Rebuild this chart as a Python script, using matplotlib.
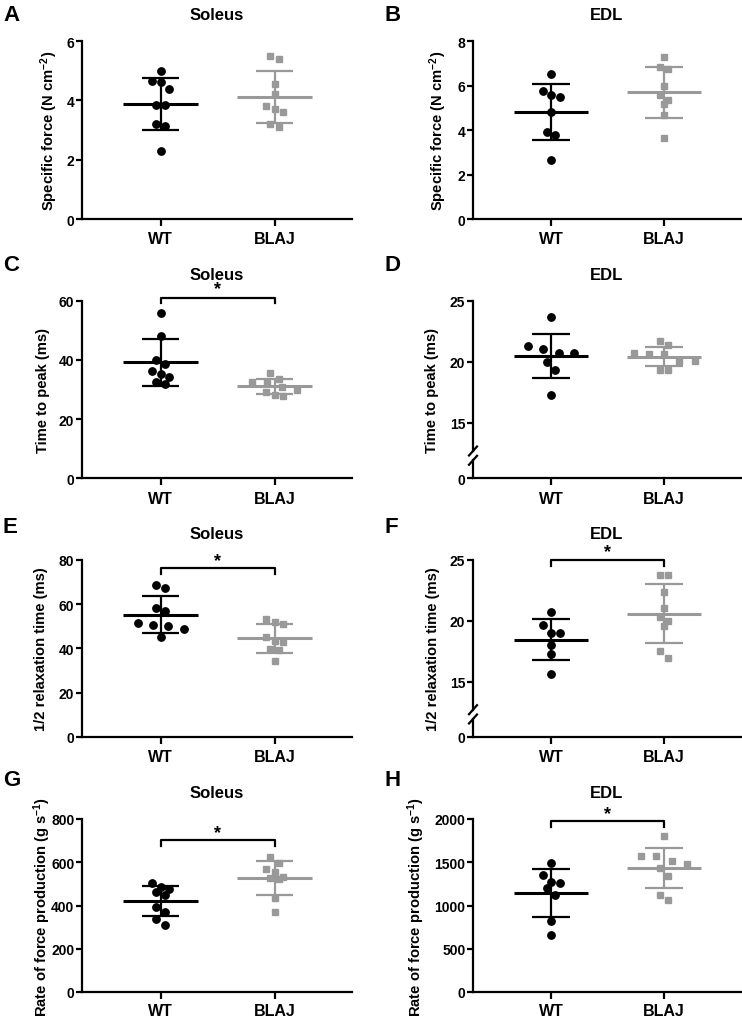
import numpy as np
import matplotlib.pyplot as plt

plt.rcParams['font.family'] = ['Liberation Sans', 'DejaVu Sans']
plt.rcParams['font.weight'] = 'bold'
plt.rcParams['mathtext.fontset'] = 'custom'
plt.rcParams['mathtext.rm'] = 'Liberation Sans:bold'
plt.rcParams['mathtext.bf'] = 'Liberation Sans:bold'
plt.rcParams['mathtext.default'] = 'bf'

# groups on the x axis
groups = ['WT', 'BLAJ']

# A - soleus specific force (N cm-2)
sol_force_wt = [4.98, 4.65, 4.62, 4.39, 3.85, 3.83, 3.20, 3.12, 2.29]
sol_force_blaj = [5.49, 5.38, 4.56, 4.22, 3.80, 3.72, 3.62, 3.20, 3.10]
# B - EDL specific force
edl_force_wt = [6.53, 5.74, 5.59, 5.47, 4.80, 3.90, 3.78, 2.67]
edl_force_blaj = [7.28, 6.83, 6.76, 5.98, 5.56, 5.36, 5.17, 4.68, 3.65]
# C - soleus time to peak (ms)
sol_ttp_wt = [55.7, 48.0, 40.0, 38.6, 36.4, 35.3, 34.1, 32.6, 31.9]
sol_ttp_blaj = [35.6, 33.5, 32.5, 32.2, 30.7, 29.9, 29.0, 28.2, 27.9]
# D - EDL time to peak (ms)
edl_ttp_wt = [23.64, 21.32, 21.05, 20.69, 20.69, 20.0, 19.36, 17.32]
edl_ttp_blaj = [21.67, 21.39, 20.71, 20.63, 20.63, 20.08, 20.08, 19.34, 19.34]
# E - soleus 1/2 relaxation time (ms)
sol_hrt_wt = [68.6, 67.2, 58.2, 57.0, 51.3, 50.7, 49.9, 48.7, 45.0]
sol_hrt_blaj = [53.2, 52.0, 51.0, 45.0, 43.5, 42.7, 39.7, 39.4, 34.4]
# F - EDL 1/2 relaxation time (ms)
edl_hrt_wt = [20.68, 19.64, 18.96, 18.96, 18.0, 17.3, 15.6]
edl_hrt_blaj = [23.72, 23.72, 22.35, 21.04, 20.3, 20.0, 19.6, 17.55, 16.95]
# G - soleus rate of force production (g s-1)
sol_rfp_wt = [505, 484, 475, 462, 447, 392, 370, 337, 311]
sol_rfp_blaj = [624, 595, 568, 555, 532, 526, 522, 436, 370]
# H - EDL rate of force production (g s-1)
edl_rfp_wt = [1490, 1351, 1268, 1257, 1208, 1118, 818, 664]
edl_rfp_blaj = [1801, 1568, 1568, 1520, 1482, 1433, 1343, 1126, 1062]

force_lbl = 'Specific force (N cm$^{-2}$)'
ttp_lbl = 'Time to peak (ms)'
hrt_lbl = '1/2 relaxation time (ms)'
rfp_lbl = 'Rate of force production (g s$^{-1}$)'

W, H = 742, 1020
fig = plt.figure(figsize=(W / 100, H / 100), dpi=100)

BLACK = 'black'
GREY = '#999999'

# panel layout in pixels
col_x = [(82, 270), (473, 268)]
row_y = [(42, 220), (301.7, 479.3), (560.7, 738), (820, 993)]
panels = [
    ('A', 0, 0, 'Soleus', force_lbl, sol_force_wt, sol_force_blaj, [0, 2, 4, 6], False, None, -0.082),
    ('B', 1, 0, 'EDL', force_lbl, edl_force_wt, edl_force_blaj, [0, 2, 4, 6, 8], False, None, -0.088),
    ('C', 0, 1, 'Soleus', ttp_lbl, sol_ttp_wt, sol_ttp_blaj, [0, 20, 40, 60], False, (59.2, 60.9, 64.0), -0.12),
    ('D', 1, 1, 'EDL', ttp_lbl, edl_ttp_wt, edl_ttp_blaj, [15, 20, 25], True, None, -0.126),
    ('E', 0, 2, 'Soleus', hrt_lbl, sol_hrt_wt, sol_hrt_blaj, [0, 20, 40, 60, 80], False, (73.5, 76.1, 79.5), -0.125),
    ('F', 1, 2, 'EDL', hrt_lbl, edl_hrt_wt, edl_hrt_blaj, [15, 20, 25], True, (24.5, 25.0, 25.7), -0.122),
    ('G', 0, 3, 'Soleus', rfp_lbl, sol_rfp_wt, sol_rfp_blaj, [0, 200, 400, 600, 800], False, (676, 702, 737), -0.106),
    ('H', 1, 3, 'EDL', rfp_lbl, edl_rfp_wt, edl_rfp_blaj, [0, 500, 1000, 1500, 2000], False, (1913, 1981, 2064), -0.17),
]


def px_axes(x0, w, top, bottom):
    return fig.add_axes([x0 / W, 1 - bottom / H, w / W, (bottom - top) / H])


def style(ax, xpad=4):
    for s in ['top', 'right']:
        ax.spines[s].set_visible(False)
    for s in ['left', 'bottom']:
        ax.spines[s].set_linewidth(1.6)
    ax.tick_params(axis='y', length=4, width=1.6, pad=1.5, labelsize=10)
    ax.tick_params(axis='x', length=5, width=1.6, pad=xpad, labelsize=11.5)
    ax.set_xlim(-0.69, 1.68)


def spread(ax, x0, values, d=8.5):
    # prism-like scatter: points close in y share a row and are spread sideways
    vals = np.asarray(values, dtype=float)
    pts = ax.transData.transform(np.column_stack([np.full(len(vals), x0), vals]))
    ys = pts[:, 1]
    cx = pts[0, 0]
    order = np.argsort(-vals, kind='stable')
    rows = []
    for i in order:
        if rows and ys[rows[-1][0]] - ys[i] < d:
            rows[-1].append(i)
        else:
            rows.append([i])
    xs = np.zeros(len(vals))
    for r in rows:
        n = len(r)
        step = d if n <= 3 else 1.8 * d
        for k, i in enumerate(r):
            xs[i] = (k - (n - 1) / 2) * step
    back = ax.transData.inverted().transform(np.column_stack([cx + xs, ys]))
    return back[:, 0]


def group(ax, x0, values, color, marker, ms):
    xs = spread(ax, x0, values)
    ax.plot(xs, values, linestyle='none', marker=marker, ms=ms, color=color, mec=color, zorder=2)
    m = np.mean(values)
    s = np.std(values, ddof=1)
    kw = dict(color=color, solid_capstyle='butt', zorder=3, clip_on=False)
    ax.plot([x0 - 0.33, x0 + 0.33], [m, m], lw=2.2, **kw)
    ax.plot([x0 - 0.165, x0 + 0.165], [m + s, m + s], lw=1.6, **kw)
    ax.plot([x0 - 0.165, x0 + 0.165], [m - s, m - s], lw=1.6, **kw)
    ax.plot([x0, x0], [m - s, m + s], lw=1.6, **kw)


for (letter, col, row, title, ylabel, wt, blaj, yticks, broken, star, lab_x) in panels:
    x0, w = col_x[col]
    top, bottom = row_y[row]
    xpad = 3 if row == 3 else 4
    if broken:
        ax = px_axes(x0, w, top, bottom - 27.3)
        low = px_axes(x0, w, bottom - 18, bottom)
        style(ax, xpad)
        style(low, xpad)
        ax.set_ylim(12.7, yticks[-1])
        ax.spines['bottom'].set_visible(False)
        ax.tick_params(axis='x', bottom=False, labelbottom=False)
        low.set_ylim(0, 1.5)
        low.set_yticks([0])
        low.set_xticks([0, 1])
        low.set_xticklabels(groups, fontweight='bold')
        # break marks on the y axis
        hp_top = bottom - 27.3 - top
        ax.plot([-4 / w, 4 / w], [-4.5 / hp_top, 4.5 / hp_top], transform=ax.transAxes,
                color=BLACK, lw=1.6, clip_on=False)
        low.plot([-4 / w, 4 / w], [1 - 4.5 / 18, 1 + 4.5 / 18], transform=low.transAxes,
                 color=BLACK, lw=1.6, clip_on=False)
        label_y = (bottom - 27.3 - (top + bottom) / 2) / hp_top
    else:
        ax = px_axes(x0, w, top, bottom)
        style(ax, xpad)
        ax.set_ylim(0, yticks[-1])
        ax.set_xticks([0, 1])
        ax.set_xticklabels(groups, fontweight='bold')
        label_y = 0.5
    ax.set_yticks(yticks)
    for t in ax.get_yticklabels():
        t.set_fontweight('bold')

    group(ax, 0, wt, BLACK, 'o', 5.3)
    group(ax, 1, blaj, GREY, 's', 5.0)

    ax.set_title(title, fontsize=12, fontweight='bold', pad=15.5, y=1.0)
    ax.set_ylabel(ylabel, fontsize=10.6, fontweight='bold')
    ax.yaxis.set_label_coords(lab_x, label_y)

    if star is not None:
        lo, hi, sy = star
        ax.plot([0, 0, 1, 1], [lo, hi, hi, lo], color=BLACK, lw=1.6, clip_on=False)
        ax.text(0.5, sy, '*', ha='center', va='center', fontsize=13, fontweight='bold', clip_on=False)

    fig.text((3 if col == 0 else 384) / W, 1 - [5, 255, 517, 770][row] / H, letter,
             ha='left', va='top', fontsize=16, fontweight='bold')

fig.savefig('out.png', dpi=100)
